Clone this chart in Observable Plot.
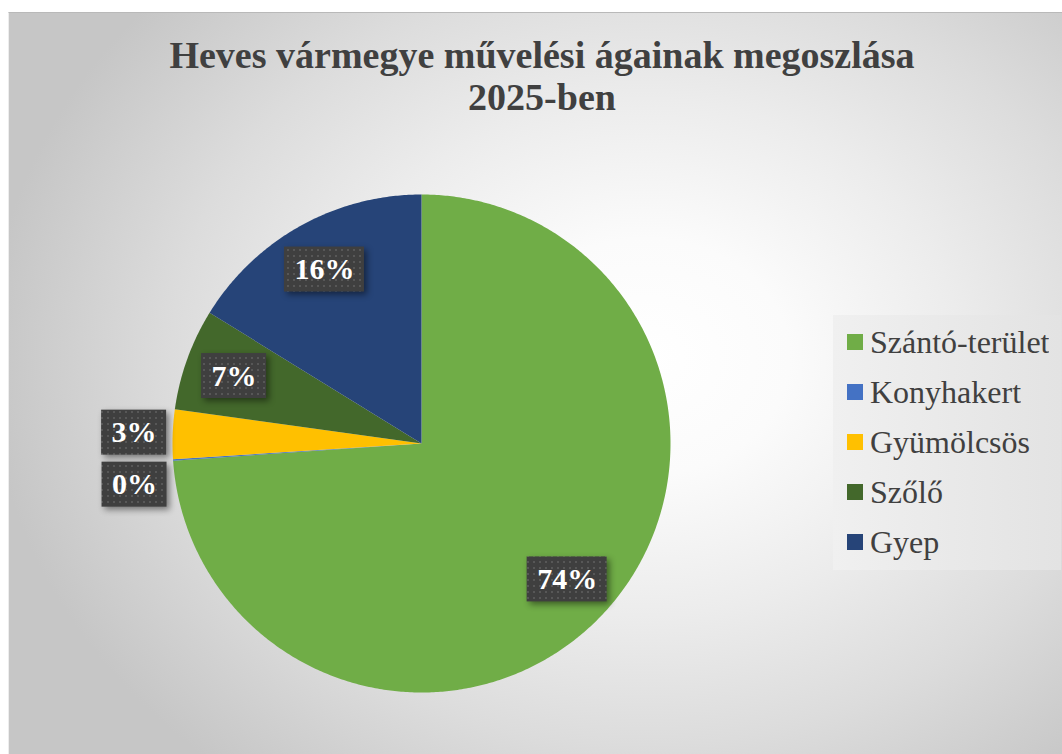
<!DOCTYPE html>
<html><head><meta charset="utf-8">
<script src="https://cdn.jsdelivr.net/npm/d3@7"></script>
<script src="https://cdn.jsdelivr.net/npm/@observablehq/plot@0.6"></script>
<style>
html,body{margin:0;padding:0;background:#fff;width:1062px;height:754px;overflow:hidden}
#frame{position:absolute;left:8px;top:12px;width:1060px;height:748px;border-top:1px solid #b9b9b9;border-left:1px solid #ededed;overflow:hidden;
background:radial-gradient(ellipse 62% 72% at 60% 46%, #ffffff 0%, #fbfbfb 22%, #ececec 48%, #dcdcdc 72%, #c6c6c6 100%);}
#title{position:absolute;left:0;top:21px;width:1066px;text-align:center;font:bold 38px/42px "Liberation Serif","Times New Roman",serif;color:#404040}
#pie{position:absolute;left:0;top:120px}
#legend{position:absolute;left:838px;top:304px}
#legendbg{position:absolute;left:824px;top:302px;width:228px;height:255px;background:linear-gradient(to right,#f0f0f0,#e8e8e8 60%,#e3e3e3)}
#pie g[aria-label="rect"]{filter:drop-shadow(3px 3px 3px rgba(0,0,0,0.45))}
#pie text{font-family:"Liberation Serif","Times New Roman",serif !important;font-weight:bold !important}
#legend, #legend div{font-family:"Liberation Serif","Times New Roman",serif !important;font-size:32px !important;color:#404040 !important}
#legend > div{margin:0 !important}
#legend > div > div{height:50px !important;padding-bottom:0 !important;display:flex !important;align-items:center !important}
#legend svg{margin-right:7px !important}
</style>
</head><body>
<svg width="0" height="0" style="position:absolute">
  <defs>
    <pattern id="dots" width="6" height="6" patternUnits="userSpaceOnUse">
      <rect width="6" height="6" fill="#3f3f3f"/>
      <rect x="2" y="2" width="2" height="2" fill="#575757"/>
    </pattern>
  </defs>
</svg>
<div id="frame">
  <div id="title">Heves vármegye művelési ágainak megoszlása<br>2025-ben</div>
  <div id="legendbg"></div>
  <div id="pie"></div>
  <div id="legend"></div>
</div>
<script>
// ---- data ----
const categories = ["Szántó-terület", "Konyhakert", "Gyümölcsös", "Szőlő", "Gyep"];
const shares = [73.9, 0.1, 3.2, 6.6, 16.2];
const colors = ["#70AD47", "#4472C4", "#FFC000", "#43682B", "#264478"];

// ---- layout ----
const R = 249;               // pie radius in px
const W = 800, H = 620;      // svg size
const cxPx = 412, cyPx = 310; // pie centre inside svg

const total = d3.sum(shares);
const arcs = d3.pie().sort(null).value(d => d)(shares);

// slice outlines (polar -> cartesian, unit radius)
const pts = [];
arcs.forEach((a, i) => {
  const n = Math.max(2, Math.ceil((a.endAngle - a.startAngle) / (Math.PI / 360)));
  pts.push({cat: categories[i], x: 0, y: 0});
  for (let k = 0; k <= n; k++) {
    const t = a.startAngle + (a.endAngle - a.startAngle) * k / n;
    pts.push({cat: categories[i], x: Math.sin(t), y: Math.cos(t)});
  }
  pts.push({cat: categories[i], x: 0, y: 0});
});

// label placement (inside for big slices, outside + de-overlap for small ones)
const boxH = 45 / R;
const labels = arcs.map((a, i) => {
  const mid = (a.startAngle + a.endAngle) / 2;
  const frac = shares[i] / total;
  const txt = Math.round(shares[i]) + "%";
  const r = frac >= 0.05 ? 0.8 : 1.155;
  return {txt, frac, outside: frac < 0.05, x: r * Math.sin(mid), y: r * Math.cos(mid),
          w: (15 * (txt.length - 1) + 30 + 20) / R};
});
const outside = labels.filter(d => d.outside).sort((a, b) => b.frac - a.frac);
const placed = [];
for (const l of outside) {
  for (const p of placed) {
    if (Math.abs(l.y - p.y) < boxH + 7 / R) l.y = p.y - (boxH + 7 / R);
  }
  placed.push(l);
}

const x0 = -cxPx / R, y0 = -(H - cyPx) / R;
const chart = Plot.plot({
  width: W, height: H, margin: 0,
  style: {background: "transparent", overflow: "visible"},
  x: {domain: [x0, x0 + W / R], axis: null},
  y: {domain: [y0, y0 + H / R], axis: null},
  color: {domain: categories, range: colors},
  marks: [
    Plot.line(pts, {x: "x", y: "y", z: "cat", fill: "cat", stroke: "none", curve: "linear"}),
    Plot.rect(labels, {x1: d => d.x - d.w / 2, x2: d => d.x + d.w / 2,
                       y1: d => d.y - boxH / 2, y2: d => d.y + boxH / 2,
                       fill: "url(#dots)", stroke: "none"}),
    Plot.text(labels, {x: "x", y: "y", text: "txt", fill: "white", fontSize: 30, fontWeight: "bold",
                       fontFamily: "Liberation Serif"})
  ]
});
document.getElementById("pie").appendChild(chart);

const legend = Plot.legend({
  color: {type: "categorical", domain: categories, range: colors},
  columns: 1, swatchSize: 16, className: "leg"
});
document.getElementById("legend").appendChild(legend);
</script>
</body></html>
